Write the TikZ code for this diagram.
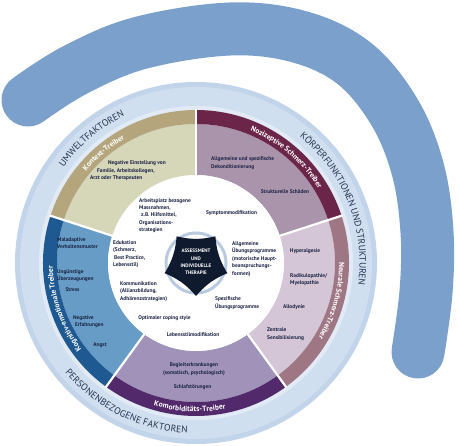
\documentclass[tikz,border=0pt]{standalone}
\usepackage{fontspec}
\setmainfont{PT Sans}
\usetikzlibrary{decorations.text}
\definecolor{swooshc}{RGB}{122,160,203}
\definecolor{ringA}{RGB}{193,212,233}
\definecolor{ringB}{RGB}{208,223,239}
\definecolor{ringC}{RGB}{226,235,245}
\definecolor{ktxB}{RGB}{180,165,125}
\definecolor{ktxF}{RGB}{214,214,185}
\definecolor{nozB}{RGB}{107,37,72}
\definecolor{nozF}{RGB}{170,148,172}
\definecolor{neuB}{RGB}{158,118,132}
\definecolor{neuF}{RGB}{212,198,214}
\definecolor{komB}{RGB}{82,42,107}
\definecolor{komF}{RGB}{160,146,185}
\definecolor{kogB}{RGB}{30,90,145}
\definecolor{kogF}{RGB}{103,156,198}
\definecolor{navy}{RGB}{27,36,69}
\definecolor{starc}{RGB}{16,26,46}
\definecolor{ringtxt}{RGB}{40,52,80}
\definecolor{starring}{RGB}{185,202,224}
\newcommand\mysector[5]{\fill[#1] (#2:#5pt) arc[start angle=#2, end angle=#3, radius=#5pt] -- (#3:#4pt) arc[start angle=#3, end angle=#2, radius=#4pt] -- cycle;}
\newcommand\ringlabel[3]{\path[decorate, decoration={text along path, text align=center, raise=-3.5pt, text={|\color{ringtxt}\fontsize{9.5}{10}\selectfont|#3}}] (#1:167pt) arc[start angle=#1, end angle=#2, radius=167pt];}
\newcommand\bandlabel[3]{\path[decorate, decoration={text along path, text align=center, raise=-2.8pt, text={|\color{white}\bfseries\fontsize{7.5}{8}\selectfont|#3}}] (#1:146pt) arc[start angle=#1, end angle=#2, radius=146pt];}
\tikzset{
 itxt/.style={text=navy, font=\fontsize{5.4}{7.4}\selectfont\bfseries, inner sep=0pt},
 ileft/.style={itxt, align=left, anchor=west},
 icent/.style={itxt, align=center, anchor=center},
 swooshline/.style={draw=swooshc, line width=53pt, line cap=round},
}
\begin{document}
\begin{tikzpicture}[x=1pt,y=1pt]
\useasboundingbox (0,0) rectangle (460,-446);
% swoosh
\draw[swooshline] plot[smooth, tension=0.6] coordinates {(28,-100) (75,-70) (140,-43) (230,-29) (300,-37) (355,-64) (395,-113) (418,-170) (427,-232) (426,-292) (418,-352)};
\begin{scope}[shift={(196pt,-263pt)}]
% outer ring
\fill[ringA] (0,0) circle[radius=181pt];
\fill[ringB] (0,0) circle[radius=176pt];
\fill[ringC] (0,0) circle[radius=157pt];
% segments
\mysector{ktxF}{90}{162}{88}{139}
\mysector{ktxB}{90}{162}{139}{153}
\mysector{nozF}{18}{90}{88}{139}
\mysector{nozB}{18}{90}{139}{153}
\mysector{neuF}{-54}{18}{88}{139}
\mysector{neuB}{-54}{18}{139}{153}
\mysector{komF}{-126}{-54}{88}{139}
\mysector{komB}{-126}{-54}{139}{153}
\mysector{kogF}{162}{234}{88}{139}
\mysector{kogB}{162}{234}{139}{153}
\foreach \a in {90,18,-54,-126,162} \draw[white, line width=2.2pt] (\a:86pt) -- (\a:154pt);
\fill[white] (0,0) circle[radius=88pt];
% ring labels
\ringlabel{180}{80}{UMWELTFAKTOREN}
\ringlabel{96.5}{-53.5}{KÖRPERFUNKTIONEN UND STRUKTUREN}
\ringlabel{173.5}{313.5}{PERSONENBEZOGENE FAKTOREN}
% band labels
\bandlabel{175}{85}{Kontext-Treiber}
\bandlabel{100}{-1}{Nozizeptive Schmerz-Treiber}
\bandlabel{35}{-66}{Neurale Schmerz-Treiber}
\bandlabel{220}{315}{Komorbiditäts-Treiber}
\bandlabel{250}{148}{Kognitiv-emotionale Treiber}
% star
\draw[starring, line width=3pt, fill=white] (0,0) circle[radius=30pt];
\fill[starc] (-90:33pt) .. controls (-68:24pt) and (-40:24pt) .. (-18:33pt) .. controls (4:24pt) and (32:24pt) .. (54:33pt) .. controls (76:24pt) and (104:24pt) .. (126:33pt) .. controls (148:24pt) and (176:24pt) .. (198:33pt) .. controls (220:24pt) and (248:24pt) .. (270:33pt) -- cycle;
\end{scope}
\node[text=white, font=\fontsize{5}{7.3}\selectfont\bfseries, align=center, inner sep=0pt] (core) at (196,-262) {ASSESSMENT\\UND\\INDIVIDUELLE\\THERAPIE};
% Kontext
\node[ileft] (t1) at (90,-171) {\hspace*{18pt}Negative Einstellung von\\\hspace*{7pt}Familie, Arbeitskollegen,\\Arzt oder Therapeuten};
% inner circle
\node[ileft] (t2) at (139,-215.5) {Arbeitsplatz bezogene\\Massnahmen,\\\hspace*{2pt}z.B. Hilfsmittel,\\Organisations-\\strategien};
\node[icent] (t3) at (231.5,-213) {Symptommodifikation};
\node[ileft] (t4) at (113,-254) {Edukation\\(Schmerz,\\\hspace*{1pt}Best Practice,\\Lebensstil)};
\node[ileft] (t5) at (232,-259) {Allgemeine\\Übungsprogramme\\(motorische Haupt-\\beanspruchungs-\\formen)};
\node[ileft] (t6) at (120,-291.5) {Kommunikation\\(Allianzbildung,\\Adhärenzstrategien)};
\node[ileft] (t7) at (215,-303) {Spezifische\\Übungsprogramme};
\node[icent] (t8) at (164.5,-318) {Optimaler coping style};
\node[icent] (t9) at (193,-335) {Lebensstilmodifikation};
% Nozizeptive
\node[ileft] (t10) at (211,-163) {Allgemeine und spezifische\\Dekonditionierung};
\node[icent] (t11) at (285,-192) {Strukturelle Schäden};
% Neurale
\node[icent] (t12) at (305,-251) {Hyperalgesie};
\node[ileft] (t13) at (290,-279.5) {Radikulopathie/\\Myelopathie};
\node[icent] (t14) at (294,-307) {Allodynie};
\node[ileft] (t15) at (267,-334) {Zentrale\\Sensibilisierung};
% Komorbid
\node[icent] (t16) at (194,-369) {Begleiterkrankungen\\(somatisch, psychologisch)};
\node[icent] (t17) at (192.5,-387) {Schlafstörungen};
% Kognitiv
\node[ileft] (t18) at (57,-243) {Maladaptive\\Verhaltensmuster};
\node[ileft] (t19) at (57,-275.5) {Ungünstige\\Überzeugungen};
\node[icent] (t20) at (72.5,-290) {Stress};
\node[ileft] (t21) at (73,-321.5) {Negative\\\hspace*{2pt}Erfahrungen};
\node[icent] (t22) at (100,-345) {Angst};
\end{tikzpicture}
\end{document}
